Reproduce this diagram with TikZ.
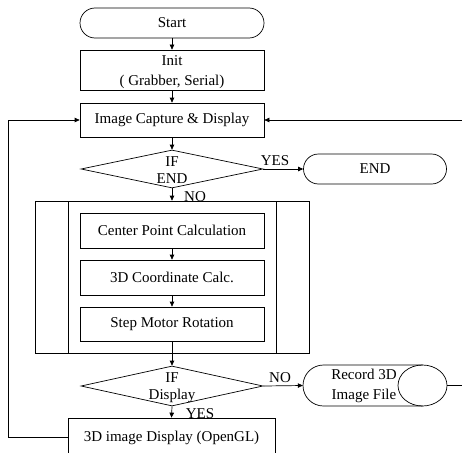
\documentclass[tikz,border=0pt]{standalone}
\usepackage{fontspec}
\setmainfont{Liberation Serif}
\usetikzlibrary{shapes.geometric,arrows.meta}
\begin{document}
\begin{tikzpicture}[x=1pt,y=-1pt,
  every node/.style={font=\fontsize{15}{20}\selectfont, inner sep=0pt},
  box/.style={draw, rectangle, line width=0.7pt, align=center},
  term/.style={draw, rectangle, rounded corners=15pt, line width=0.7pt},
  dec/.style={draw, diamond, line width=0.7pt},
  lbl/.style={align=center, font=\fontsize{15}{17}\selectfont},
  conn/.style={line width=0.7pt},
  arr/.style={conn, -{Triangle[length=5pt,width=4.5pt]}}]
\useasboundingbox (0,0) rectangle (462,452);
\clip (0,0) rectangle (462,452);
% nodes
\node[term, minimum width=184pt, minimum height=30pt] (start) at (172,23) {Start};
\node[box, minimum width=184pt, minimum height=40pt] (init) at (172,70) {};
\node[align=center] at (172,72.5) {Init\\( Grabber, Serial)};
\node[box, minimum width=184pt, minimum height=34pt] (cap) at (172,120) {Image Capture \& Display};
\node[dec, minimum width=182pt, minimum height=38pt] (d1) at (172,169) {};
\node[lbl] at (172,170.5) {IF\\END};
\node[term, minimum width=143pt, minimum height=30pt] (end) at (375,169) {END};
\node[draw, rectangle, line width=0.7pt, minimum width=274pt, minimum height=152pt] (loop) at (172,277) {};
\draw[conn] (68,201) -- (68,353);
\draw[conn] (276,201) -- (276,353);
\node[box, minimum width=184pt, minimum height=35pt] (cpc) at (172,230.5) {Center Point Calculation};
\node[box, minimum width=184pt, minimum height=35pt] (coord) at (172,277.5) {3D Coordinate Calc.};
\node[box, minimum width=184pt, minimum height=34pt] (stepm) at (172,324) {Step Motor Rotation};
\node[dec, minimum width=182pt, minimum height=40pt] (d2) at (172,386) {};
\node[lbl] at (172,387.5) {IF\\Display};
% record shape
\node[minimum width=144pt, minimum height=41pt] (rec) at (375,385.5) {};
\draw[conn] (422.5,365) -- (323.5,365) arc[start angle=90, end angle=270, x radius=20.5, y radius=-20.5] -- (422.5,406);
\draw[conn] (422.5,385.5) ellipse[x radius=24.5, y radius=20.5];
\node[align=center] at (364,386) {Record 3D\\Image File};
\node[box, minimum width=207pt, minimum height=38pt] (disp) at (171.5,437) {};
\node at (171.5,438) {3D image Display (OpenGL)};
% connectors
\draw[arr] (start) -- (init);
\draw[arr] (init) -- (cap);
\draw[arr] (cap) -- (d1);
\draw[arr] (d1.south) -- (loop.north);
\draw[arr] (d1.east) -- (end.west);
\draw[arr] (cpc) -- (coord);
\draw[arr] (coord) -- (stepm);
\draw[arr] (stepm.south) -- (d2.north);
\draw[arr] (d2.east) -- (rec.west);
\draw[arr] (d2.south) -- (disp.north);
\coordinate (lt) at (8,120);
\coordinate (rt) at (462,120);
\coordinate (rr) at (462,385.5);
\draw[arr] (disp.west) -| (lt) -- (cap.west);
\draw[arr] (rt) -- (cap.east);
\draw[conn] (rec.east) -- (rr);
% labels
\node at (275,161) {YES};
\node at (195,197) {NO};
\node at (280,378) {NO};
\node at (200,414) {YES};
\end{tikzpicture}
\end{document}
